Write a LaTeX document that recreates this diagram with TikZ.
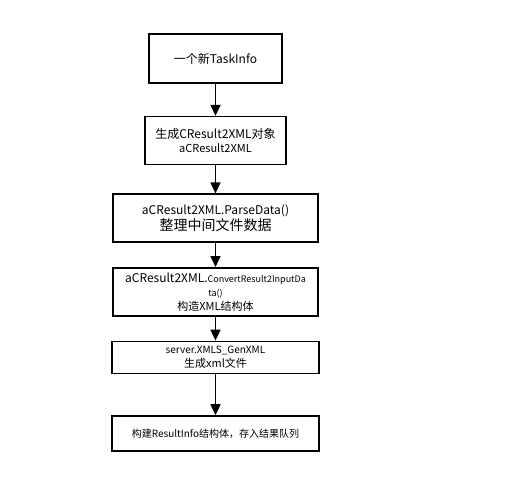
\documentclass[tikz,border=0pt]{standalone}
\usepackage{fontspec}
\newfontfamily\cjk{Noto Sans CJK SC}
\usepackage{tikz}
\usetikzlibrary{positioning,arrows.meta}

\begin{document}
\begin{tikzpicture}[
        x=1pt, y=1pt,
        box/.style={rectangle, draw=black, line width=1.6pt, fill=white,
                     align=center, inner sep=1pt, font=\cjk\fontsize{11}{14}\selectfont},
        arrow/.style={-{Triangle[width=10pt,length=11pt]}, line width=1.6pt, black}
    ]
        \useasboundingbox (0,0) rectangle (506,-488);
        \node[box, minimum width=133pt, minimum height=49pt] (task) at (215.5,-58.5)
            {\fontsize{12}{14}\selectfont 一个新TaskInfo};
        \node[box, minimum width=141pt, minimum height=48pt, below=32pt of task] (create)
            {\fontsize{12}{16}\selectfont 生成CResult2XML对象\\aCResult2XML};
        \node[box, minimum width=205pt, minimum height=48pt, below=28pt of create] (parse)
            {\fontsize{12}{17}\selectfont aCResult2XML.ParseData()\\{\fontsize{14}{17}\selectfont 整理中间文件数据}};
        \node[box, minimum width=205pt, minimum height=48pt, below=24pt of parse] (convert)
            {\fontsize{12}{13}\selectfont aCResult2XML.{\fontsize{9}{13}\selectfont ConvertResult2InputDa}\\{\fontsize{9}{13}\selectfont ta()}\\构造XML结构体};
        \node[box, minimum width=207pt, minimum height=32pt, below=24pt of convert] (genxml)
            {\fontsize{10}{14}\selectfont server.XMLS\_GenXML\\{\fontsize{11}{14}\selectfont 生成xml文件}};
        \node[box, minimum width=207pt, minimum height=35pt, below=41pt of genxml] (result)
            {\fontsize{10}{12}\selectfont 构建ResultInfo结构体，存入结果队列};

        \draw[arrow] (task) -- (create);
        \draw[arrow] (create) -- (parse);
        \draw[arrow] (parse) -- (convert);
        \draw[arrow] (convert) -- (genxml);
        \draw[arrow] (genxml) -- (result);
    \end{tikzpicture}
\end{document}
